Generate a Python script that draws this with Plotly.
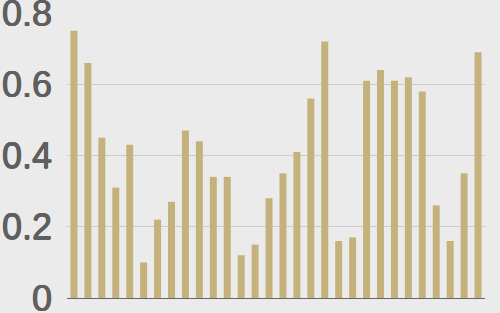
import plotly.graph_objects as go

categories = list(range(1, 31))
values = [0.75, 0.66, 0.45, 0.31, 0.43, 0.10, 0.22, 0.27, 0.47, 0.44,
          0.34, 0.34, 0.12, 0.15, 0.28, 0.35, 0.41, 0.56, 0.72, 0.16,
          0.17, 0.61, 0.64, 0.61, 0.62, 0.58, 0.26, 0.16, 0.35, 0.69]
y_ticks = [0, 0.2, 0.4, 0.6, 0.8]
y_labels = ["0", "0.2", "0.4", "0.6", "0.8"]

fig = go.Figure(go.Bar(x=categories, y=values, marker_color="#c5b17c",
                       marker_line_width=0))
fig.update_layout(
    width=500, height=313,
    margin=dict(l=67, r=15, t=13, b=15),
    paper_bgcolor="#ebebeb", plot_bgcolor="#ebebeb",
    bargap=0.5, showlegend=False,
    font=dict(family="Liberation Sans, Arial, sans-serif", size=36, color="#5f5f5f"),
)
fig.update_xaxes(showticklabels=False, showgrid=False, showline=True,
                 linecolor="#666666", linewidth=1, ticks="",
                 range=[0.5, 30.5], automargin=False)
fig.update_yaxes(range=[0, 0.8], tickvals=y_ticks, ticktext=y_labels,
                 showgrid=True, gridcolor="#cccccc", gridwidth=1,
                 zeroline=False, ticks="", ticklabelstandoff=14,
                 ticklabeloverflow="allow", automargin=False,
                 tickfont=dict(family="Liberation Sans, Arial, sans-serif",
                               size=36, color="#5f5f5f",
                               shadow="0.5px 0 0 #5f5f5f, -0.5px 0 0 #5f5f5f, 0 0.5px 0 #5f5f5f"))
fig.write_html("out.html")
